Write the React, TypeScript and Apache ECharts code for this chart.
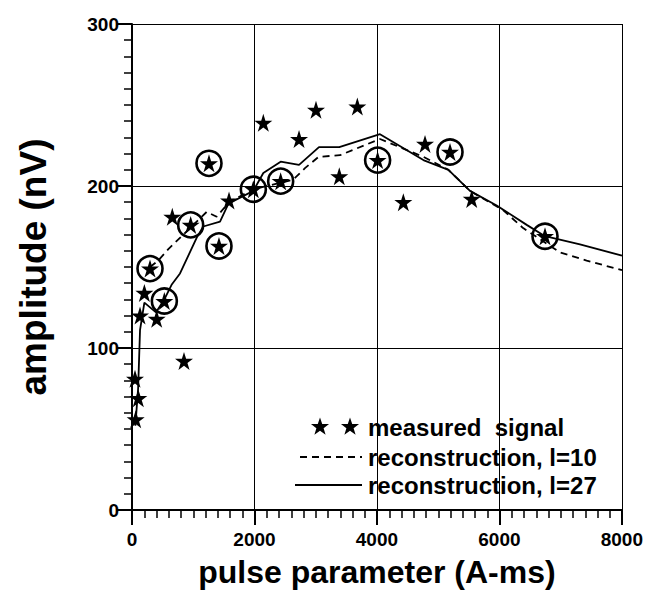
import React, { useEffect, useRef } from "react";
import * as echarts from "echarts";

// Measured signal: pulse parameter (A-ms) vs amplitude (nV)
const measuredX = [49, 60, 103, 131, 202, 294, 403, 528, 658, 849, 958, 1257, 1420, 1584, 1981, 2144, 2427, 2727, 3004, 3384, 3679, 4010, 4430, 4784, 5192, 5546, 6743];
const measuredY = [81, 56, 69, 120, 134, 149, 118, 129, 181, 92, 176, 214, 163, 191, 198, 239, 203, 229, 247, 206, 249, 216, 190, 226, 221, 192, 169];

// Points used by the l=10 reconstruction (drawn circled)
const circledX = [294, 528, 958, 1257, 1420, 1981, 2427, 4010, 5192, 6743];
const circledY = [149, 129, 176, 214, 163, 198, 203, 216, 221, 169];

// Reconstruction, l=10 (dashed)
const recon10X = [294, 429, 593, 810, 1219, 1382, 1584, 1981, 2427, 2634, 2824, 3046, 3396, 4049, 4757, 5166, 5518, 6063, 6386, 6988, 7423, 8000];
const recon10Y = [150, 154, 161, 169, 184, 181, 190, 198, 202, 204, 211, 218, 219, 229, 218, 210, 197, 185, 174, 159, 154, 148];

// Reconstruction, l=27 (solid)
const recon27X = [55, 100, 131, 202, 392, 528, 646, 784, 1055, 1164, 1437, 1573, 1981, 2144, 2427, 2727, 3053, 3384, 4049, 4757, 5166, 5518, 5954, 6444, 6743, 7314, 8000];
const recon27Y = [52, 75, 111, 128, 122, 130, 139, 146, 168, 175, 178, 189, 197, 208, 215, 213, 224, 224, 232, 216, 210, 197, 188, 176, 169, 164, 157];

const xTicks = [0, 2000, 4000, 6000, 8000];
const yTicks = [0, 100, 200, 300];

const legendLabels = ["measured  signal", "reconstruction, l=10", "reconstruction, l=27"];

const STAR = "path://M50,0L61.2,34.5L97.6,34.5L68.2,55.9L79.4,90.5L50,69.1L20.6,90.5L31.8,55.9L2.4,34.5L38.8,34.5Z";
const FONT = "'Liberation Sans', Arial, Helvetica, sans-serif";
const GRID = { left: 132, right: 24, top: 24, bottom: 84 };

function zip(xs: number[], ys: number[]) {
  return xs.map((x, i) => [x, ys[i]]);
}

function starPoints(cx: number, cy: number, r: number) {
  const pts: number[][] = [];
  for (let i = 0; i < 10; i++) {
    const a = -Math.PI / 2 + (i * Math.PI) / 5;
    const rr = i % 2 === 0 ? r : r * 0.4;
    pts.push([cx + rr * Math.cos(a), cy + rr * Math.sin(a)]);
  }
  return pts;
}

const xRange = { min: xTicks[0], max: xTicks[xTicks.length - 1], interval: xTicks[1] - xTicks[0] };
const yRange = { min: yTicks[0], max: yTicks[yTicks.length - 1], interval: yTicks[1] - yTicks[0] };

// Layer 1: axis lines, major/minor ticks and grid lines
function frameOption() {
  const lines = () => ({
    axisLine: { show: true, lineStyle: { color: "#000", width: 2 } },
    axisTick: { show: true, length: 15, lineStyle: { color: "#000", width: 2 } },
    minorTick: { show: true, splitNumber: 10, length: 8, lineStyle: { color: "#000", width: 1.5 } },
    splitLine: { show: true, lineStyle: { color: "#000", width: 1 } },
    axisLabel: { color: "rgba(0,0,0,0)" },
  });
  return {
    animation: false,
    grid: { ...GRID },
    xAxis: { type: "value", ...xRange, ...lines() },
    yAxis: { type: "value", ...yRange, ...lines() },
    series: [{ type: "scatter", data: zip(measuredX, measuredY), symbolSize: 0, silent: true }],
  };
}

// Layer 2: tick labels and axis titles
function labelOption() {
  const label = (margin: number) => ({
    color: "#000",
    fontFamily: FONT,
    fontWeight: "bold",
    fontSize: 19,
    margin,
    formatter: (v: number) => String(v),
  });
  const hidden = {
    axisLine: { show: false },
    axisTick: { show: false },
    splitLine: { show: false },
  };
  return {
    animation: false,
    grid: { ...GRID },
    xAxis: {
      type: "value",
      ...xRange,
      ...hidden,
      axisLabel: label(20),
      name: "pulse parameter (A-ms)",
      nameLocation: "middle",
      nameGap: 46,
      nameTextStyle: { color: "#000", fontFamily: FONT, fontWeight: "bold", fontSize: 32 },
    },
    yAxis: {
      type: "value",
      ...yRange,
      ...hidden,
      axisLabel: label(13),
      name: "amplitude (nV)",
      nameLocation: "middle",
      nameGap: 80,
      nameTextStyle: { color: "#000", fontFamily: FONT, fontWeight: "bold", fontSize: 37 },
    },
    series: [{ type: "scatter", data: [], silent: true }],
  };
}

// Layer 3: data marks on the same scales, plus the legend
function dataOption() {
  const legendY = [427, 457, 485];
  return {
    animation: false,
    grid: { ...GRID },
    xAxis: { type: "value", ...xRange, show: false },
    yAxis: { type: "value", ...yRange, show: false },
    series: [
      {
        name: "reconstruction, l=10",
        type: "line",
        data: zip(recon10X, recon10Y),
        showSymbol: false,
        lineStyle: { color: "#000", width: 1.8, type: [7, 5] },
        z: 2,
      },
      {
        name: "reconstruction, l=27",
        type: "line",
        data: zip(recon27X, recon27Y),
        showSymbol: false,
        lineStyle: { color: "#000", width: 1.8 },
        z: 2,
      },
      {
        name: "measured signal",
        type: "scatter",
        data: zip(measuredX, measuredY),
        symbol: STAR,
        symbolSize: 18,
        itemStyle: { color: "#000", opacity: 1 },
        z: 3,
      },
      {
        name: "circled",
        type: "scatter",
        data: zip(circledX, circledY),
        symbol: "circle",
        symbolSize: 25,
        itemStyle: { color: "rgba(0,0,0,0)", borderColor: "#000", borderWidth: 2.6, opacity: 1 },
        z: 4,
      },
    ],
    graphic: [
      { type: "polygon", shape: { points: starPoints(320, legendY[0], 9.5) }, style: { fill: "#000" } },
      { type: "polygon", shape: { points: starPoints(350, legendY[0], 9.5) }, style: { fill: "#000" } },
      {
        type: "line",
        shape: { x1: 300, y1: legendY[1], x2: 362, y2: legendY[1] },
        style: { stroke: "#000", lineWidth: 1.8, lineDash: [7, 5] },
      },
      {
        type: "line",
        shape: { x1: 295, y1: legendY[2], x2: 362, y2: legendY[2] },
        style: { stroke: "#000", lineWidth: 1.8 },
      },
      ...legendLabels.map((t, i) => ({
        type: "text",
        x: 368,
        y: legendY[i],
        style: {
          text: t,
          fill: "#000",
          font: `bold 24px ${FONT}`,
          verticalAlign: "middle",
        },
      })),
    ],
  };
}

const layerStyle: React.CSSProperties = { position: "absolute", left: 0, top: 0, width: 646, height: 594 };

export default function App() {
  const frameRef = useRef<HTMLDivElement>(null);
  const labelRef = useRef<HTMLDivElement>(null);
  const dataRef = useRef<HTMLDivElement>(null);

  useEffect(() => {
    if (!frameRef.current || !labelRef.current || !dataRef.current) return;
    const frame = echarts.init(frameRef.current, null, { renderer: "svg" });
    const labels = echarts.init(labelRef.current, null, { renderer: "svg" });
    const data = echarts.init(dataRef.current, null, { renderer: "svg" });
    frame.setOption(frameOption());
    labels.setOption(labelOption());
    data.setOption(dataOption());
    return () => {
      frame.dispose();
      labels.dispose();
      data.dispose();
    };
  }, []);

  return (
    <div style={{ position: "fixed", left: 0, top: 0, width: 646, height: 594, background: "#fff" }}>
      <div ref={frameRef} style={layerStyle} />
      <div ref={labelRef} style={layerStyle} />
      <div ref={dataRef} style={layerStyle} />
    </div>
  );
}
